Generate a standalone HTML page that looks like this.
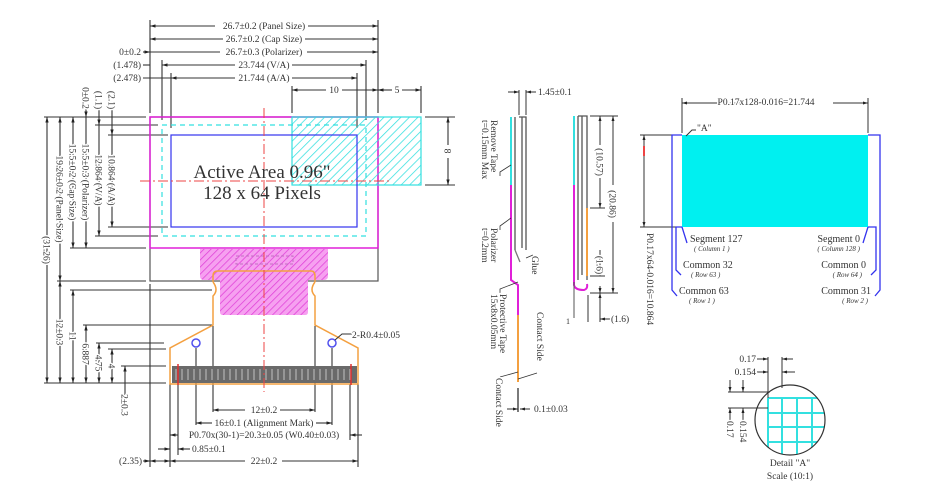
<!DOCTYPE html>
<html><head><meta charset="utf-8"><style>
html,body{margin:0;padding:0;background:#fff}
svg{display:block}
text{font-family:"Liberation Serif",serif;fill:#333;paint-order:stroke;stroke:#fff;stroke-width:3px;stroke-linejoin:round}
</style></head><body>
<svg width="930" height="491" viewBox="0 0 930 491" xmlns="http://www.w3.org/2000/svg">
<defs>
<pattern id="hc" width="6" height="6" patternUnits="userSpaceOnUse" patternTransform="rotate(45)"><line x1="0" y1="0" x2="0" y2="6" stroke="#33e0e0" stroke-width="1.5"/></pattern>
<pattern id="hm" width="5" height="5" patternUnits="userSpaceOnUse" patternTransform="rotate(45)"><rect width="5" height="5" fill="#f6a0f0"/><line x1="0" y1="0" x2="0" y2="5" stroke="#e040d8" stroke-width="1.5"/></pattern>
<marker id="a" viewBox="0 0 10 10" refX="10" refY="5" markerWidth="5" markerHeight="5" orient="auto-start-reverse"><path d="M0,2 L10,5 L0,8 z" fill="#222"/></marker>
</defs>
<g stroke="#333" stroke-width="1.1" fill="none">
<line x1="150" y1="20" x2="150" y2="113"/><line x1="378" y1="20" x2="378" y2="113"/>
<line x1="162" y1="60" x2="162" y2="120"/><line x1="171" y1="73" x2="171" y2="128"/>
<line x1="366" y1="60" x2="366" y2="120"/><line x1="357" y1="73" x2="357" y2="128"/>
<line x1="292" y1="86" x2="292" y2="113"/><line x1="421" y1="86" x2="421" y2="113"/>
<line x1="150" y1="26" x2="215" y2="26" marker-start="url(#a)"/><line x1="308" y1="26" x2="378" y2="26" marker-end="url(#a)"/>
<line x1="150" y1="39" x2="223" y2="39" marker-start="url(#a)"/><line x1="305" y1="39" x2="378" y2="39" marker-end="url(#a)"/>
<line x1="143" y1="52" x2="150" y2="52" marker-end="url(#a)"/><line x1="150" y1="52" x2="220" y2="52"/><line x1="307" y1="52" x2="378" y2="52" marker-end="url(#a)"/>
<line x1="143" y1="65" x2="150" y2="65"/><line x1="162" y1="65" x2="235" y2="65" marker-start="url(#a)"/><line x1="292" y1="65" x2="366" y2="65" marker-end="url(#a)"/>
<line x1="143" y1="78" x2="171" y2="78"/><line x1="171" y1="78" x2="235" y2="78" marker-start="url(#a)"/><line x1="292" y1="78" x2="357" y2="78" marker-end="url(#a)"/>
<line x1="292" y1="90" x2="326" y2="90" marker-start="url(#a)"/><line x1="342" y1="90" x2="378" y2="90" marker-end="url(#a)"/>
<line x1="378" y1="90" x2="392" y2="90" marker-start="url(#a)"/><line x1="402" y1="90" x2="421" y2="90" marker-end="url(#a)"/>
<line x1="425" y1="117" x2="455" y2="117"/><line x1="425" y1="185" x2="455" y2="185"/>
<line x1="448" y1="117" x2="448" y2="145" marker-start="url(#a)"/><line x1="448" y1="158" x2="448" y2="185" marker-end="url(#a)"/>
<line x1="44" y1="117" x2="146" y2="117"/><line x1="95" y1="125" x2="158" y2="125"/><line x1="108" y1="135" x2="168" y2="135"/>
<line x1="108" y1="227" x2="168" y2="227"/><line x1="95" y1="236" x2="158" y2="236"/><line x1="70" y1="248" x2="146" y2="248"/>
<line x1="57" y1="281" x2="146" y2="281"/><line x1="70" y1="290" x2="212" y2="290"/><line x1="83" y1="325" x2="212" y2="325"/>
<line x1="96" y1="343" x2="164" y2="343"/><line x1="108" y1="349" x2="166" y2="349"/><line x1="121" y1="366" x2="166" y2="366"/>
<line x1="44" y1="383" x2="166" y2="383"/>
<line x1="47" y1="117" x2="47" y2="383" marker-start="url(#a)" marker-end="url(#a)"/>
<line x1="60" y1="117" x2="60" y2="281" marker-start="url(#a)" marker-end="url(#a)"/>
<line x1="60" y1="281" x2="60" y2="383" marker-start="url(#a)" marker-end="url(#a)"/>
<line x1="73" y1="117" x2="73" y2="248" marker-start="url(#a)" marker-end="url(#a)"/>
<line x1="73" y1="290" x2="73" y2="383" marker-start="url(#a)" marker-end="url(#a)"/>
<line x1="86" y1="105" x2="86" y2="117" marker-end="url(#a)"/><line x1="86" y1="117" x2="86" y2="248" marker-end="url(#a)"/>
<line x1="86" y1="325" x2="86" y2="383" marker-start="url(#a)" marker-end="url(#a)"/>
<line x1="99" y1="110" x2="99" y2="125" marker-end="url(#a)"/><line x1="99" y1="125" x2="99" y2="236" marker-end="url(#a)"/>
<line x1="99" y1="343" x2="99" y2="383" marker-start="url(#a)" marker-end="url(#a)"/>
<line x1="112" y1="110" x2="112" y2="135" marker-end="url(#a)"/><line x1="112" y1="135" x2="112" y2="227" marker-end="url(#a)"/>
<line x1="112" y1="349" x2="112" y2="383" marker-start="url(#a)" marker-end="url(#a)"/>
<line x1="125" y1="366" x2="125" y2="383" marker-start="url(#a)"/><line x1="125" y1="383" x2="125" y2="395"/>
<line x1="150" y1="284" x2="150" y2="467"/><line x1="170" y1="384" x2="170" y2="467"/><line x1="178" y1="384" x2="178" y2="455"/>
<line x1="196" y1="348" x2="196" y2="425"/><line x1="213" y1="326" x2="213" y2="412"/>
<line x1="315" y1="326" x2="315" y2="412"/><line x1="332" y1="348" x2="332" y2="425"/>
<line x1="350" y1="384" x2="350" y2="440"/><line x1="358" y1="384" x2="358" y2="467"/>
<line x1="213" y1="410" x2="245" y2="410" marker-start="url(#a)"/><line x1="280" y1="410" x2="315" y2="410" marker-end="url(#a)"/>
<line x1="196" y1="423" x2="212" y2="423" marker-start="url(#a)"/><line x1="316" y1="423" x2="332" y2="423" marker-end="url(#a)"/>
<line x1="170" y1="435" x2="178" y2="435" marker-start="url(#a)"/><line x1="350" y1="435" x2="362" y2="435" marker-start="url(#a)"/>
<line x1="158" y1="449" x2="170" y2="449" marker-end="url(#a)"/><line x1="178" y1="449" x2="190" y2="449" marker-start="url(#a)"/>
<line x1="143" y1="461" x2="150" y2="461" marker-end="url(#a)"/><line x1="150" y1="461" x2="170" y2="461" marker-start="url(#a)" marker-end="url(#a)"/>
<line x1="170" y1="461" x2="245" y2="461" marker-start="url(#a)"/><line x1="282" y1="461" x2="358" y2="461" marker-end="url(#a)"/>
</g>
<rect x="150" y="117" width="228" height="164" fill="none" stroke="#555" stroke-width="1.2"/>
<rect x="150" y="117" width="228" height="131" fill="none" stroke="#e020d8" stroke-width="1.5"/>
<rect x="292" y="117" width="129" height="68" fill="url(#hc)" stroke="#33e0e0" stroke-width="1.2"/>
<rect x="162" y="125" width="204" height="111" fill="none" stroke="#33e0e0" stroke-width="1.2" stroke-dasharray="5,4"/>
<rect x="171" y="135" width="186" height="92" fill="none" stroke="#3333ee" stroke-width="1.2"/>
<path d="M200,249 H328 V276 Q328,280 324,280 H308 V312 Q308,315 305,315 H223 Q220,315 220,312 V280 H204 Q200,280 200,276 Z" fill="url(#hm)"/>
<rect x="236" y="256" width="57" height="8" fill="none" stroke="#c070c0" stroke-dasharray="3,2"/>
<path d="M213,282 V276 Q213,271 218,271 H311 Q315,271 315,276 V282 M213,282 Q219,290 213,296 V325 L170,348 V384 H358 V348 L315,325 V296 Q309,290 315,282" fill="none" stroke="#f4a040" stroke-width="1.5"/>
<rect x="172" y="366" width="185" height="17" fill="#6a6a6a"/>
<g stroke="#d8d8d8" stroke-width="0.8">
<path d="M176,369 V380 M182,369 V380 M188,369 V380 M194,369 V380 M200,369 V380 M206,369 V380 M212,369 V380 M218,369 V380 M224,369 V380 M230,369 V380 M236,369 V380 M242,369 V380 M248,369 V380 M254,369 V380 M260,369 V380 M266,369 V380 M272,369 V380 M278,369 V380 M284,369 V380 M290,369 V380 M296,369 V380 M302,369 V380 M308,369 V380 M314,369 V380 M320,369 V380 M326,369 V380 M332,369 V380 M338,369 V380 M344,369 V380 M350,369 V380"/>
</g>
<line x1="178" y1="364" x2="178" y2="385" stroke="#e03030" stroke-width="1.5"/><line x1="351" y1="364" x2="351" y2="385" stroke="#e03030" stroke-width="1.5"/>
<circle cx="196" cy="343" r="4" fill="none" stroke="#5050ee" stroke-width="1.5"/>
<circle cx="332" cy="343" r="4" fill="none" stroke="#5050ee" stroke-width="1.5"/>
<path d="M335,340 L342,334 H352" stroke="#333" fill="none"/>
<g stroke="#ee4444" stroke-width="1" stroke-dasharray="10,3,2,3">
<line x1="264" y1="108" x2="264" y2="392"/><line x1="140" y1="181" x2="390" y2="181"/>
</g>
<text x="262" y="178" font-size="19" text-anchor="middle" fill="#222" style="stroke:none">Active Area 0.96"</text>
<text x="262" y="199" font-size="19" text-anchor="middle" fill="#222" style="stroke:none">128 x 64 Pixels</text>
<g font-size="9.5">
<text x="264" y="29" text-anchor="middle">26.7±0.2 (Panel Size)</text>
<text x="264" y="42" text-anchor="middle">26.7±0.2 (Cap Size)</text>
<text x="264" y="55" text-anchor="middle">26.7±0.3 (Polarizer)</text>
<text x="264" y="68" text-anchor="middle">23.744 (V/A)</text>
<text x="264" y="81" text-anchor="middle">21.744 (A/A)</text>
<text x="141" y="55" text-anchor="end">0±0.2</text>
<text x="141" y="68" text-anchor="end">(1.478)</text>
<text x="141" y="81" text-anchor="end">(2.478)</text>
<text x="334" y="93" text-anchor="middle">10</text>
<text x="397" y="93" text-anchor="middle">5</text>
<text x="352" y="338">2-R0.4±0.05</text>
<text x="264" y="413" text-anchor="middle">12±0.2</text>
<text x="264" y="426" text-anchor="middle">16±0.1 (Alignment Mark)</text>
<text x="264" y="438" text-anchor="middle">P0.70x(30-1)=20.3±0.05 (W0.40±0.03)</text>
<text x="192" y="452">0.85±0.1</text>
<text x="142" y="464" text-anchor="end">(2.35)</text>
<text x="264" y="464" text-anchor="middle">22±0.2</text>
<text transform="translate(444.5,151) rotate(90)" text-anchor="middle">8</text>
<text transform="translate(43.5,250) rotate(90)" text-anchor="middle">(31.26)</text>
<text transform="translate(56.5,199) rotate(90)" text-anchor="middle">19.26±0.2 (Panel Size)</text>
<text transform="translate(56.5,332) rotate(90)" text-anchor="middle">12±0.3</text>
<text transform="translate(69.5,182) rotate(90)" text-anchor="middle">15.5±0.2 (Cap Size)</text>
<text transform="translate(69.5,336) rotate(90)" text-anchor="middle">11</text>
<text transform="translate(82.5,182) rotate(90)" text-anchor="middle">15.5±0.3 (Polarizer)</text>
<text transform="translate(82.5,98) rotate(90)" text-anchor="middle">0±0.2</text>
<text transform="translate(82.5,354) rotate(90)" text-anchor="middle">6.887</text>
<text transform="translate(95.5,180) rotate(90)" text-anchor="middle">12.864 (V/A)</text>
<text transform="translate(95.5,100) rotate(90)" text-anchor="middle">(1.1)</text>
<text transform="translate(95.5,363) rotate(90)" text-anchor="middle">4.75</text>
<text transform="translate(108.5,180) rotate(90)" text-anchor="middle">10.864 (A/A)</text>
<text transform="translate(108.5,100) rotate(90)" text-anchor="middle">(2.1)</text>
<text transform="translate(108.5,366) rotate(90)" text-anchor="middle">4</text>
<text transform="translate(121.5,405) rotate(90)" text-anchor="middle">2±0.3</text>
</g>
<g fill="none" stroke-width="1.3">
<line x1="511" y1="117" x2="511" y2="185" stroke="#33e0e0" stroke-width="2"/>
<line x1="511" y1="185" x2="511" y2="248" stroke="#e020d8" stroke-width="2"/>
<path d="M515,117 V250 M519,117 H526 V250 M522,117 V248" stroke="#555"/>
<path d="M511,248 V280 L518,285 V315" stroke="#e020d8" stroke-width="2"/>
<line x1="518" y1="315" x2="518" y2="382" stroke="#f4a040" stroke-width="2"/>
<line x1="518" y1="388" x2="518" y2="412" stroke="#333"/>
<line x1="515" y1="250" x2="520" y2="262" stroke="#777"/>
<line x1="519" y1="90" x2="519" y2="115" stroke="#333" stroke-width="1"/><line x1="526" y1="90" x2="526" y2="115" stroke="#333" stroke-width="1"/>
<line x1="508" y1="92" x2="519" y2="92" stroke="#333" stroke-width="1" marker-end="url(#a)"/><line x1="536" y1="92" x2="526" y2="92" stroke="#333" stroke-width="1" marker-end="url(#a)"/>
<line x1="507" y1="409" x2="518" y2="409" stroke="#333" stroke-width="1" marker-end="url(#a)"/><line x1="530" y1="409" x2="520" y2="409" stroke="#333" stroke-width="1" marker-end="url(#a)"/>
<path d="M511,165 L500,172 V176 M511,218 L500,226 V230 M526,258 L533,255 M518,282 L500,289 V293 M518,379 L537,373 M518,372 L500,377" stroke="#333" stroke-width="0.8"/>
</g>
<g font-size="9.5">
<text x="538" y="95">1.45±0.1</text>
<text x="534" y="412">0.1±0.03</text>
<text transform="translate(491,120) rotate(90)">Remove Tape</text>
<text transform="translate(482,120) rotate(90)">t=0.15mm Max</text>
<text transform="translate(491,228) rotate(90)">Polarizer</text>
<text transform="translate(482,228) rotate(90)">t=0.2mm</text>
<text transform="translate(532,256) rotate(90)">Glue</text>
<text transform="translate(500,294) rotate(90)">Protective Tape</text>
<text transform="translate(491,294) rotate(90)">15x8x0.05mm</text>
<text transform="translate(537,312) rotate(90)">Contact Side</text>
<text transform="translate(496,378) rotate(90)">Contact Side</text>
</g>
<g fill="none" stroke-width="1.3">
<line x1="574" y1="116" x2="574" y2="185" stroke="#33e0e0" stroke-width="2"/>
<path d="M574,185 V285 Q575,290 584,290 Q588,289 587,284" stroke="#e020d8" stroke-width="2"/>
<path d="M578,116 V280 M582,116 V275 M578,116 H587 V280" stroke="#555"/>
<line x1="587" y1="208" x2="587" y2="276" stroke="#f4a040" stroke-width="2"/>
<line x1="574" y1="282" x2="574" y2="318" stroke="#555" stroke-width="1"/>
<g stroke="#333" stroke-width="1">
<line x1="590" y1="116" x2="618" y2="116"/><line x1="590" y1="208" x2="605" y2="208"/><line x1="590" y1="276" x2="605" y2="276"/><line x1="590" y1="293" x2="618" y2="293"/>
<line x1="600" y1="116" x2="600" y2="145" marker-start="url(#a)"/><line x1="600" y1="178" x2="600" y2="208" marker-end="url(#a)"/>
<line x1="613" y1="116" x2="613" y2="185" marker-start="url(#a)"/><line x1="613" y1="222" x2="613" y2="293" marker-end="url(#a)"/>
<line x1="600" y1="250" x2="600" y2="276" marker-end="url(#a)"/>
<line x1="600" y1="286" x2="600" y2="293" marker-end="url(#a)"/><line x1="600" y1="305" x2="600" y2="293" marker-end="url(#a)"/>
<line x1="588" y1="295" x2="588" y2="322"/><line x1="600" y1="298" x2="600" y2="322"/>
<line x1="610" y1="319" x2="600" y2="319" marker-end="url(#a)"/>
</g>
</g>
<g font-size="9.5">
<text transform="translate(596.5,162) rotate(90)" text-anchor="middle">(10.57)</text>
<text transform="translate(609.5,204) rotate(90)" text-anchor="middle">(20.86)</text>
<text transform="translate(596.5,265) rotate(90)" text-anchor="middle">(1.6)</text>
<text x="611" y="322">(1.6)</text>
<text x="566" y="324" font-size="8">1</text>
</g>
<rect x="682" y="135" width="186" height="92" fill="#00f0f0"/>
<g stroke="#333" stroke-width="1" fill="none">
<line x1="682" y1="98" x2="682" y2="133"/><line x1="868" y1="98" x2="868" y2="133"/>
<line x1="682" y1="103" x2="740" y2="103" marker-start="url(#a)"/><line x1="833" y1="103" x2="868" y2="103" marker-end="url(#a)"/>
<line x1="640" y1="135" x2="680" y2="135"/><line x1="640" y1="227" x2="680" y2="227"/>
<line x1="644" y1="135" x2="644" y2="227" marker-start="url(#a)" marker-end="url(#a)"/>
<path d="M686,136 L692,130 H696"/>
</g>
<line x1="644" y1="146" x2="644" y2="156" stroke="#ee4444" stroke-width="2"/>
<g stroke="#3333ee" stroke-width="1.3" fill="none">
<path d="M682,135 H672 V290 L677,296"/><path d="M682,227 H676 V270 L681,275"/><path d="M682,227 L687,243"/>
<path d="M868,135 H880 V290 L875,296"/><path d="M868,227 H876 V270 L871,275"/><path d="M868,227 L863,243"/>
</g>
<g fill="#3333ee" font-size="10">
<text x="690" y="242">Segment 127</text>
<text x="694" y="251" font-size="7" font-style="italic">( Column 1 )</text>
<text x="683" y="268">Common 32</text>
<text x="691" y="277" font-size="7" font-style="italic">( Row 63 )</text>
<text x="679" y="294">Common 63</text>
<text x="689" y="303" font-size="7" font-style="italic">( Row 1 )</text>
<text x="860" y="242" text-anchor="end">Segment 0</text>
<text x="860" y="251" font-size="7" font-style="italic" text-anchor="end">( Column 128 )</text>
<text x="866" y="268" text-anchor="end">Common 0</text>
<text x="862" y="277" font-size="7" font-style="italic" text-anchor="end">( Row 64 )</text>
<text x="871" y="294" text-anchor="end">Common 31</text>
<text x="868" y="303" font-size="7" font-style="italic" text-anchor="end">( Row 2 )</text>
</g>
<g font-size="9.5">
<text x="766" y="105" text-anchor="middle">P0.17x128-0.016=21.744</text>
<text x="697" y="131">"A"</text>
<text transform="translate(647,233) rotate(90)">P0.17x64-0.016=10.864</text>
</g>
<clipPath id="cc"><circle cx="790" cy="420" r="35"/></clipPath>
<g clip-path="url(#cc)" stroke="#33e0e0" stroke-width="2" fill="none">
<path d="M768,398 V470 M782,398 V470 M797,398 V470 M812,398 V470 M768,398 H830 M768,413 H830 M768,427 H830 M768,442 H830"/>
</g>
<circle cx="790" cy="420" r="35" fill="none" stroke="#333" stroke-width="1.2"/>
<g stroke="#333" stroke-width="1" fill="none">
<line x1="768" y1="357" x2="768" y2="398"/><line x1="782" y1="357" x2="782" y2="388"/>
<line x1="757" y1="359" x2="768" y2="359" marker-end="url(#a)"/><line x1="793" y1="359" x2="782" y2="359" marker-end="url(#a)"/>
<line x1="757" y1="372" x2="768" y2="372" marker-end="url(#a)"/><line x1="795" y1="372" x2="782" y2="372" marker-end="url(#a)"/>
<line x1="728" y1="392" x2="770" y2="392"/><line x1="728" y1="408" x2="768" y2="408"/>
<line x1="730" y1="380" x2="730" y2="392" marker-end="url(#a)"/><line x1="743" y1="380" x2="743" y2="392" marker-end="url(#a)"/>
<line x1="730" y1="420" x2="730" y2="408" marker-end="url(#a)"/><line x1="743" y1="420" x2="743" y2="408" marker-end="url(#a)"/>
</g>
<g font-size="9.5">
<text x="756" y="362" text-anchor="end">0.17</text>
<text x="756" y="375" text-anchor="end">0.154</text>
<text transform="translate(727,421) rotate(90)">0.17</text>
<text transform="translate(740,421) rotate(90)">0.154</text>
<text x="790" y="466" text-anchor="middle">Detail "A"</text>
<text x="790" y="479" text-anchor="middle">Scale (10:1)</text>
</g>
</svg>
</body></html>
